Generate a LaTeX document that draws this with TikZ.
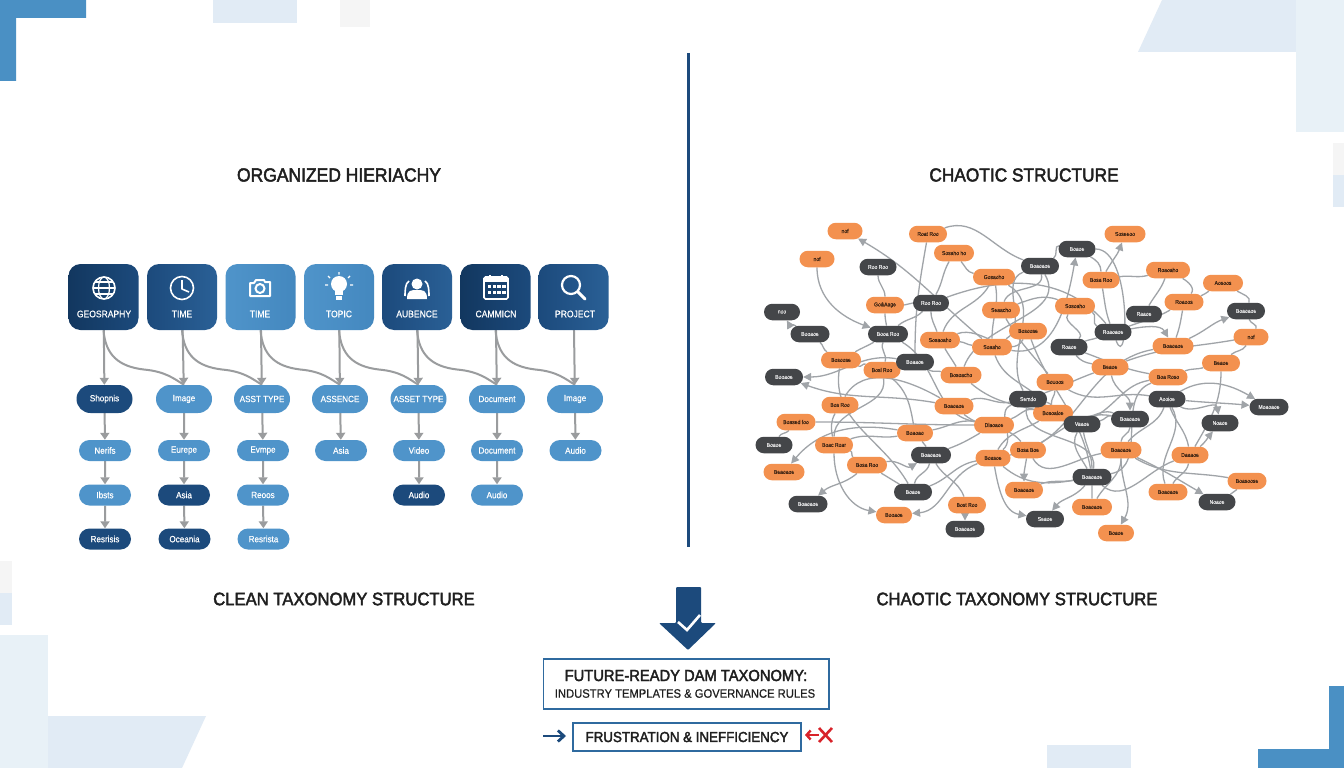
\documentclass[tikz,border=0pt]{standalone}
\usepackage{fontspec}
\setmainfont{Liberation Sans}
\newfontfamily\hd{Liberation Sans}[FakeBold=2.4,FakeStretch=0.92]
\newfontfamily\nd{Liberation Sans}[FakeBold=0.5,FakeStretch=0.9]
\newfontfamily\ndr{Liberation Sans}[FakeBold=0.6,FakeStretch=0.92]
\newfontfamily\nds{Liberation Sans}[FakeBold=0.25,FakeStretch=0.9]
\usetikzlibrary{arrows.meta,shapes.misc,backgrounds,calc}
\definecolor{navy}{HTML}{1C4A7C}
\definecolor{navyd}{HTML}{12375F}
\definecolor{navyl}{HTML}{2A6096}
\definecolor{sky}{HTML}{4F94CA}
\definecolor{skyd}{HTML}{4488BF}
\definecolor{deco}{HTML}{4A90C4}
\definecolor{pale}{HTML}{E1EBF5}
\definecolor{paler}{HTML}{E8F1F7}
\definecolor{orng}{HTML}{F3914F}
\definecolor{drk}{HTML}{444649}
\definecolor{grayl}{HTML}{9A9C9E}
\definecolor{edgec}{HTML}{A0A4A8}
\definecolor{boxb}{HTML}{2F6A9F}
\definecolor{redx}{HTML}{D8232A}
\tikzset{
  x=1pt,y=-1pt,
  card/.style={rounded corners=12pt,minimum width=70pt,minimum height=66pt,inner sep=0pt},
  cardt/.style={text=white,font=\nd\fontsize{9.5}{10}\selectfont,inner sep=0pt},
  pill/.style={rounded rectangle,inner sep=0pt,text=white,font=\nd\fontsize{9}{10}\selectfont},
  pa/.style={pill,minimum width=56pt,minimum height=28pt},
  pb/.style={pill,minimum width=52pt,minimum height=21pt},
  lit/.style={fill=sky},
  dak/.style={fill=navy},
  flow/.style={draw=grayl,line width=2pt,-{Triangle[width=9pt,length=7pt]}},
  flowc/.style={draw=grayl,line width=2pt},
  ch/.style={rounded rectangle,inner sep=0pt,minimum height=16.5pt,font=\nds\fontsize{5.6}{6}\selectfont},
  orn/.style={ch,fill=orng,text=black!75!orng},
  dkn/.style={ch,fill=drk,text=white!85!drk},
  edg/.style={draw=edgec,line width=1.3pt},
  edga/.style={edg,-{Triangle[width=8pt,length=8pt,fill=edgec]}},
  ttl/.style={font=\hd\fontsize{18.5}{20}\selectfont,text=black!88,inner sep=0pt},
  ico/.style={draw=white,line width=1.6pt},
  box/.style={draw=boxb,line width=1.5pt,fill=white,inner sep=0pt}
}
\newcommand\OO[5]{\node[orn,minimum width=#4pt] (#1) at (#2,#3) {#5};}
\newcommand\DD[5]{\node[dkn,minimum width=#4pt] (#1) at (#2,#3) {#5};}
\newcommand\EE[4]{\draw[edg] (#1) to[out=#2,in=#3] (#4);}
\newcommand\AR[4]{\draw[edga] (#1) to[out=#2,in=#3] (#4);}
\begin{document}
\begin{tikzpicture}
\useasboundingbox (0,0) rectangle (1344,768);
\begin{scope}[on background layer]
\fill[white] (0,0) rectangle (1344,768);
% decoration
\fill[deco] (0,0) -- (86,0) -- (86,18) -- (16,18) -- (16,81) -- (0,81) -- cycle;
\fill[pale] (213,0) rectangle (297,23);
\fill[black!4] (340,0) rectangle (370,27);
\fill[pale] (1162,0) -- (1297,0) -- (1297,52) -- (1138,52) -- cycle;
\fill[paler] (1296,0) rectangle (1344,132);
\fill[black!4] (1333,143) rectangle (1344,175);
\fill[pale] (1333,175) rectangle (1344,207);
\fill[black!4] (0,561) rectangle (12,593);
\fill[pale] (0,593) rectangle (12,625);
\fill[paler] (0,635) rectangle (48,768);
\fill[pale] (48,716) -- (206,716) -- (182,768) -- (48,768) -- cycle;
\fill[pale] (1047,745) rectangle (1131,768);
\fill[deco] (1329,686) -- (1344,686) -- (1344,768) -- (1258,768) -- (1258,749) -- (1329,749) -- cycle;
\end{scope}
% divider
\coordinate (divt) at (688.5,53);
\coordinate (divb) at (688.5,547);
\draw[navy,line width=2.4pt] (divt) -- (divb);
% titles
\node[ttl,font=\hd\fontsize{19}{20}\selectfont] (t1) at (339,175) {ORGANIZED HIERIACHY};
\node[ttl,font=\hd\fontsize{18.8}{20}\selectfont] (t2) at (1024,175) {CHAOTIC STRUCTURE};
\node[ttl,font=\hd\fontsize{18.1}{20}\selectfont] (t3) at (344,599) {CLEAN TAXONOMY STRUCTURE};
\node[ttl,font=\hd\fontsize{18.1}{20}\selectfont] (t4) at (1017,599) {CHAOTIC TAXONOMY STRUCTURE};
% cards
\node[card,left color=navyd,right color=navy] (h1) at (103.5,297) {};
\node[card,left color=navy,right color=navyl] (h2) at (182,297) {};
\node[card,left color=sky,right color=skyd] (h3) at (260.5,297) {};
\node[card,left color=sky,right color=skyd] (h4) at (339,297) {};
\node[card,left color=navy,right color=navyl] (h5) at (417,297) {};
\node[card,left color=navyd,right color=navy] (h6) at (495.5,297) {};
\node[card,left color=navy,right color=navyl] (h7) at (573.5,297) {};
\node[cardt] (h1t) at (104,314) {GEOSRAPHY};
\node[cardt] (h2t) at (182,314) {TIME};
\node[cardt] (h3t) at (260,314) {TIME};
\node[cardt] (h4t) at (339,314) {TOPIC};
\node[cardt] (h5t) at (417,314) {AUBENCE};
\node[cardt] (h6t) at (496,314) {CAMMICN};
\node[cardt] (h7t) at (575,314) {PROJECT};
% icons
\draw[ico] (104,288) circle (11);
\draw[ico,line width=1.2pt] (104,288) ellipse (5.5 and 11);
\draw[ico,line width=1.2pt] (93,288) -- (115,288) (95,282) -- (113,282) (95,294) -- (113,294);
\draw[ico] (182,288) circle (11.5);
\draw[ico,line join=round] (182,280) -- (182,289) -- (189,292);
\draw[ico,line width=2pt,line join=round] (250,283) -- (254,283) -- (256,280) -- (264,280) -- (265,282) -- (270,282) -- (270,296) -- (250,296) -- cycle;
\draw[ico,line width=2pt] (260,288.5) circle (4.5);
\fill[white] (339,284) circle (8);
\fill[white] (335,290) rectangle (343,295);
\fill[white] (336,296) rectangle (342,300);
\draw[ico,line width=1.2pt] (339,272) -- (339,274.5) (328,276) -- (330,278) (350,276) -- (348,278) (325,285) -- (328,285) (350,285) -- (353,285);
\fill[white] (417,284) circle (5.5);
\fill[white] (407,299) .. controls (407,290) and (411,290) .. (417,290) .. controls (423,290) and (427,290) .. (427,299) -- cycle;
\draw[ico,line width=1.6pt] (409,281) .. controls (405,283) and (405,292) .. (405,296);
\draw[ico,line width=1.6pt] (425,281) .. controls (429,283) and (429,292) .. (429,296);
\draw[ico,rounded corners=1.5pt] (484,277) rectangle (508,299);
\fill[white] (484,277) rectangle (508,282);
\draw[ico] (490,275) -- (490,279) (502,275) -- (502,279);
\foreach \xx in {489.5,494.2,499,503.8}{\foreach \yy in {286.5,292.5}{\fill[white] (\xx-1.7,\yy-1.7) rectangle (\xx+1.7,\yy+1.7);}}
\draw[ico,line width=2.2pt] (571,285) circle (9);
\draw[white,line width=3pt,line cap=round] (578,292) -- (585,299);
% pills
\foreach \n/\xx/\sty/\tx in {a1/104.5/dak/Shopnis,a2/184/lit/Image,a3/262/lit/ASST TYPE,a4/340/lit/ASSENCE,a5/418.5/lit/ASSET TYPE,a6/497/lit/Document,a7/575/lit/Image}
  \node[pa,\sty] (\n) at (\xx,399) {\tx};
\foreach \n/\xx/\sty/\tx in {b1/105/lit/Nerifs,b2/184/lit/Eurepe,b3/263/lit/Evmpe,b4/341/lit/Asia,b5/419/lit/Video,b6/497/lit/Document,b7/575.5/lit/Audio}
  \node[pb,\sty] (\n) at (\xx,450.5) {\tx};
\foreach \n/\xx/\sty/\tx in {c1/105/lit/Ibsts,c2/184/dak/Asia,c3/263/lit/Reoos,c5/419/dak/Audio,c6/497/lit/Audio}
  \node[pb,\sty] (\n) at (\xx,495) {\tx};
\foreach \n/\xx/\sty/\tx in {e1/105/dak/Resrisis,e2/184.5/dak/Oceania,e3/263.5/lit/Resrista}
  \node[pb,\sty] (\n) at (\xx,539) {\tx};
\begin{scope}[on background layer]
\foreach \i in {1,...,7}{\draw[flow] (h\i) -- (a\i);\draw[flow] (a\i) -- (b\i);}
\foreach \i in {1,2,3,5,6}{\draw[flow] (b\i) -- (c\i);}
\foreach \i in {1,2,3}{\draw[flow] (c\i) -- (e\i);}
\foreach \i/\j in {1/2,2/3,3/4,4/5,5/6,6/7}{
  \draw[flowc] (h\i.south) .. controls +(2,25) and +(-25,-3) .. ($(h\i.south)!0.5!(a\j.north)+(0,12)$) .. controls +(22,2) and +(-10,-6) .. (a\j.north);}
\end{scope}
% chaos nodes
\OO{o1}{845}{231}{35}{nof}
\OO{o2}{928}{234}{38}{Roat Roo}
\OO{o3}{954}{253}{40}{Sosaho ho}
\OO{o4}{817}{259}{35}{nof}
\OO{o5}{994}{277}{42}{Gosaoho}
\OO{o6}{885}{305}{38}{Go\&Aage}
\OO{o7}{1001}{310}{38}{Seaacho}
\OO{o8}{1028}{331}{38}{Bosoose}
\OO{o9}{940}{340}{40}{Sosaoaho}
\OO{o10}{992}{347}{40}{Soaaho}
\OO{o11}{841}{360}{40}{Bosoose}
\OO{o12}{882}{370}{37}{Bosl Roo}
\OO{o13}{961}{375}{41}{Bosoacho}
\OO{o14}{1125}{234}{41}{Soseeoo}
\OO{o15}{1101}{280}{37}{Bosa Roo}
\OO{o16}{1168}{270}{44}{Roaoaho}
\OO{o17}{1223}{283}{40}{Aosoos}
\OO{o18}{1075}{306}{40}{Sosoaho}
\OO{o19}{1184}{302}{39}{Roaoos}
\OO{o20}{1251}{337}{35}{nof}
\OO{o21}{1173}{346}{41}{Boaoaoe}
\OO{o22}{1110}{367}{37}{Beaoe}
\OO{o23}{1055}{382}{37}{Bouoos}
\OO{o24}{1221}{363}{38}{Beaoe}
\OO{o25}{1168}{377}{39}{Boa Roso}
\OO{o26}{840}{405}{37}{Bos Roo}
\OO{o27}{796}{422}{39}{Boased foo}
\OO{o28}{954}{406}{39}{Boaoaoe}
\OO{o29}{994}{425}{40}{Dlaoaoe}
\OO{o30}{915}{433}{36}{Boaoao}
\OO{o31}{834}{445}{38}{Boac Roar}
\OO{o32}{784}{472}{41}{Beaoaoe}
\OO{o33}{867}{465}{40}{Bosa Roo}
\OO{o34}{993}{458}{35}{Boasoe}
\OO{o35}{894}{515}{36}{Booaoe}
\OO{o36}{967}{505}{38}{Bost Roo}
\OO{o37}{1053}{413}{40}{Bosoaloe}
\OO{o38}{1028}{450}{36}{Bosa Boe}
\OO{o39}{1121}{450}{41}{Boaoaoe}
\OO{o40}{1190}{455}{37}{Daaaoe}
\OO{o41}{1247}{481}{39}{Boasoose}
\OO{o42}{1168}{492}{39}{Boaoaoe}
\OO{o43}{1024}{490}{38}{Boaoaoe}
\OO{o44}{1092}{507}{40}{Boaoaoe}
\OO{o45}{1116}{533}{36}{Boaoe}
\DD{d1}{878}{267}{37}{Roo Roo}
\DD{d2}{931}{303}{36}{Roo Roo}
\DD{d3}{782}{312}{36}{noo}
\DD{d4}{810}{334}{39}{Booaoe}
\DD{d5}{888}{334}{40}{Booa Roo}
\DD{d6}{915}{362}{38}{Boaaoe}
\DD{d7}{784}{377}{38}{Booaoe}
\DD{d8}{1040}{266}{38}{Boaoaoe}
\DD{d9}{1077}{249}{37}{Boaoe}
\DD{d10}{1144}{314}{36}{Raaoe}
\DD{d11}{1246}{311}{38}{Boaoaoe}
\DD{d12}{1113}{332}{37}{Roaoaoe}
\DD{d13}{1069}{347}{37}{Roaoe}
\DD{d14}{774}{445}{37}{Boaoe}
\DD{d15}{931}{455}{40}{Boaoaoe}
\DD{d16}{913}{492}{38}{Boaoe}
\DD{d17}{808}{504}{39}{Boaoaoe}
\DD{d18}{965}{529}{39}{Boaoaoe}
\DD{d19}{1028}{399}{38}{Semdo}
\DD{d20}{1167}{399}{37}{Aooioe}
\DD{d21}{1269}{407}{39}{Moaoaoe}
\DD{d22}{1130}{419}{38}{Boaoaoe}
\DD{d23}{1082}{424}{37}{Vaaoe}
\DD{d24}{1220}{423}{37}{Noaoe}
\DD{d25}{1092}{477}{39}{Boaoaoe}
\DD{d26}{1217}{502}{37}{Noaoe}
\DD{d27}{1045}{519}{38}{Seaoe}
% chaos edges
\begin{scope}[on background layer]
\AR{o10}{140}{-30}{o1}
\AR{o4}{-90}{160}{d5}
\EE{d1}{-90}{90}{o6}
\EE{o6}{-90}{100}{d5}
\EE{o6}{0}{180}{d2}
\EE{o2}{-100}{90}{d6}
\EE{o3}{-120}{60}{d2}
\EE{o3}{-50}{170}{o5}
\EE{d2}{-135}{40}{d5}
\EE{d2}{-90}{110}{o9}
\EE{d2}{20}{130}{d12}
\EE{o2}{20}{160}{d8}
\AR{d4}{150}{-60}{d3}
\EE{d4}{-40}{150}{o11}
\EE{o11}{30}{-150}{d5}
\EE{o11}{-20}{160}{o12}
\AR{d6}{170}{0}{d7}
\EE{d5}{-120}{70}{o12}
\EE{o11}{-100}{120}{d16}
\EE{d5}{-30}{170}{o29}
\EE{o9}{20}{-120}{o8}
\EE{o9}{-5}{175}{o10}
\EE{o13}{170}{-30}{d6}
\EE{o9}{-60}{120}{o13}
\EE{o5}{-30}{120}{d19}
\EE{o5}{-120}{70}{o9}
\EE{o5}{-80}{90}{o10}
\EE{d8}{-160}{30}{o10}
\EE{d8}{-80}{70}{o7}
\EE{d8}{-60}{70}{o13}
\EE{d9}{170}{30}{d8}
\AR{o10}{-10}{-100}{d9}
\EE{d9}{0}{-70}{d12}
\AR{o15}{60}{-110}{o14}
\EE{o15}{10}{-165}{o16}
\EE{o15}{-80}{110}{d12}
\EE{d9}{-30}{90}{o15}
\EE{o16}{-30}{50}{o19}
\EE{o16}{-110}{60}{d10}
\EE{o19}{20}{-150}{o17}
\EE{o17}{-30}{70}{d11}
\EE{o19}{-150}{20}{d12}
\EE{o19}{-100}{70}{o21}
\AR{o21}{25}{-160}{d11}
\EE{d11}{-70}{60}{o20}
\EE{o20}{-120}{40}{o24}
\EE{o20}{-170}{20}{o22}
\EE{o24}{-165}{20}{o25}
\EE{o24}{-90}{60}{o40}
\AR{d12}{10}{120}{o21}
\EE{o18}{-20}{160}{d12}
\EE{d13}{20}{-160}{d12}
\EE{d13}{-20}{170}{o25}
\EE{d13}{-50}{170}{o22}
\EE{o21}{-170}{10}{o34}
\EE{o18}{-130}{40}{d13}
\EE{o7}{20}{160}{o18}
\AR{d20}{-5}{175}{d21}
\AR{d20}{30}{150}{d21}
\AR{d20}{-30}{100}{d24}
\EE{d20}{-70}{100}{o40}
\EE{d20}{-110}{50}{o39}
\AR{o40}{40}{-130}{d24}
\AR{o39}{-25}{150}{d26}
\AR{o39}{-90}{60}{o45}
\EE{d22}{-90}{90}{o39}
\EE{o40}{-160}{-40}{d25}
\EE{o40}{-100}{60}{o42}
\EE{o41}{170}{-30}{o39}
\EE{o41}{-140}{30}{d26}
\AR{d25}{-130}{50}{d27}
\EE{d25}{-90}{90}{o44}
\EE{d25}{90}{-80}{d23}
\EE{d25}{80}{-100}{d19}
\EE{d25}{100}{-70}{o8}
\AR{o22}{-80}{90}{d22}
\EE{d23}{10}{170}{d22}
\EE{d23}{-120}{120}{d25}
\EE{o23}{-90}{100}{o37}
\EE{o37}{-20}{160}{d22}
\EE{o37}{170}{20}{o29}
\EE{o37}{-150}{60}{o34}
\AR{o38}{-100}{90}{o43}
\AR{o34}{-80}{170}{d27}
\AR{o34}{-160}{5}{o35}
\AR{o31}{-90}{170}{o35}
\AR{o33}{-140}{40}{d17}
\AR{o30}{170}{50}{o32}
\EE{o27}{-130}{60}{d14}
\EE{o27}{0}{180}{o29}
\EE{o31}{-20}{150}{o33}
\EE{o33}{-30}{150}{d16}
\AR{o33}{10}{-150}{d15}
\EE{d16}{80}{-100}{d15}
\EE{d16}{20}{-170}{o34}
\EE{o26}{-120}{100}{o31}
\EE{o26}{60}{150}{o28}
\AR{o28}{170}{-20}{d7}
\EE{d15}{-60}{110}{o36}
\AR{o36}{-90}{90}{d18}
\EE{o30}{-50}{120}{d15}
\EE{o31}{20}{-170}{o30}
\EE{o28}{-40}{130}{o38}
\EE{o30}{10}{170}{o29}
\EE{o29}{-150}{20}{d15}
\EE{o28}{20}{-170}{d19}
\EE{o13}{-40}{160}{d23}
\EE{o12}{-80}{90}{o31}
\EE{o12}{-40}{100}{o30}
\EE{o34}{-40}{-170}{d25}
\EE{d19}{-160}{40}{o34}
\EE{d19}{-10}{170}{d23}
\EE{o43}{20}{-170}{d25}
\EE{o39}{-170}{-60}{o38}
\EE{o44}{60}{-90}{o39}
\EE{d22}{170}{30}{o38}
\EE{o25}{-170}{30}{d23}
\EE{o22}{-160}{20}{d19}
\EE{o23}{-30}{170}{d20}
\EE{o25}{-160}{10}{d25}
\EE{o42}{110}{-60}{d20}
\EE{o7}{-60}{130}{o23}
\EE{o10}{-70}{130}{o37}
\end{scope}
% bottom arrow
\fill[navy,rounded corners=1pt] (676,587) -- (701,587) -- (701,623) -- (716,623) -- (688,650) -- (659,623) -- (676,623) -- cycle;
\draw[white,line width=2.6pt] (678,622) -- (687,630) -- (700,615);
% boxes
\node[box,minimum width=285.5pt,minimum height=50pt] (bx1) at (686.25,684) {};
\node[inner sep=0pt,font=\hd\fontsize{16}{18}\selectfont,text=black!88] (bx1a) at (686,675.5) {FUTURE-READY DAM TAXONOMY:};
\node[inner sep=0pt,font=\ndr\fontsize{12.2}{14}\selectfont,text=black!88] (bx1b) at (685,693.5) {INDUSTRY TEMPLATES \& GOVERNANCE RULES};
\node[box,minimum width=228pt,minimum height=28pt] (bx2) at (687,737) {};
\node[inner sep=0pt,font=\hd\fontsize{14.5}{16}\selectfont,text=black!88] (bx2a) at (687,737) {FRUSTRATION \& INEFFICIENCY};
\coordinate (al) at (543,736);
\coordinate (alh) at (566,736);
\draw[navy,line width=2.8pt,-{Straight Barb[length=6pt,width=11pt,line width=2.8pt]}] (al) -- (alh);
\coordinate (ar) at (819,735);
\coordinate (arh) at (805,735);
\draw[redx,line width=2.4pt,-{Straight Barb[length=4pt,width=9pt,line width=2.4pt]}] (ar) -- (arh);
\draw[redx,line width=2.6pt] (819,728) -- (832,742) (832,728) -- (819,742);
\end{tikzpicture}
\end{document}
